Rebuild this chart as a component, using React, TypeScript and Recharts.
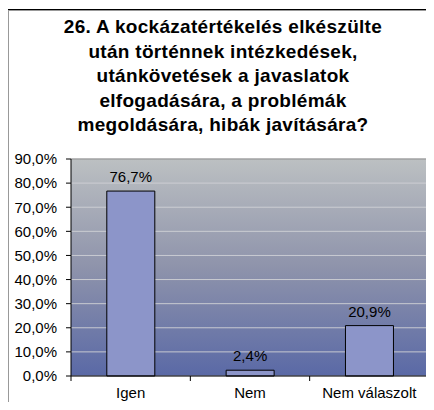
import React from "react";
import {
  BarChart,
  Bar,
  XAxis,
  YAxis,
  CartesianGrid,
  LabelList,
  ReferenceLine,
} from "recharts";

const titleLines = [
  "26. A kockázatértékelés elkészülte",
  "után történnek intézkedések,",
  "utánkövetések a javaslatok",
  "elfogadására, a problémák",
  "megoldására, hibák javítására?",
];
const categories = ["Igen", "Nem", "Nem válaszolt"];
const values = [76.7, 2.4, 20.9];
const yTicks = [0, 10, 20, 30, 40, 50, 60, 70, 80, 90];

const data = categories.map((c, i) => ({ name: c, value: values[i] }));

const fmt = (v: number) => v.toFixed(1).replace(".", ",") + "%";

const FONT = "'Liberation Sans', Arial, sans-serif";

const XTick = (props: any) => {
  const { x, y, payload, index } = props;
  const off = payload.offset || 0;
  return (
    <g>
      <line x1={x + off} x2={x + off} y1={y - 8} y2={y - 3} stroke="#000" />
      {index === 0 && (
        <line x1={x - off} x2={x - off} y1={y - 8} y2={y - 3} stroke="#000" />
      )}
      <text
        x={x}
        y={y + 3}
        dy="0.71em"
        textAnchor="middle"
        fontSize={15}
        fontFamily={FONT}
        fill="#000"
      >
        {payload.value}
      </text>
    </g>
  );
};

export default function App() {
  return (
    <div
      style={{
        position: "relative",
        width: 434,
        height: 410,
        margin: -8,
        overflow: "hidden",
        background: "#fff",
        fontFamily: FONT,
      }}
    >
      <div
        style={{
          position: "absolute",
          left: 7,
          top: 9,
          width: 500,
          height: 500,
          borderLeft: "1px solid #000",
          borderTop: "1px solid #000",
          boxShadow: "inset 1px 1px 0 #999",
        }}
      />
      <div
        style={{
          position: "absolute",
          left: 0,
          top: 15,
          width: 446,
          textAlign: "center",
          fontWeight: "bold",
          fontSize: 19,
          letterSpacing: 0.3,
          lineHeight: "24.5px",
          color: "#000",
        }}
      >
        {titleLines.map((l, i) => (
          <div key={i}>{l}</div>
        ))}
      </div>
      <div style={{ position: "absolute", left: 0, top: 0 }}>
        <BarChart
          width={434}
          height={410}
          data={data}
          margin={{ top: 159, right: 0, left: 0, bottom: 10 }}
          barCategoryGap="30%"
        >
          <defs>
            <linearGradient id="bg" x1="0" y1="0" x2="0" y2="1">
              <stop offset="0%" stopColor="#bcc0c2" />
              <stop offset="50%" stopColor="#8e93ab" />
              <stop offset="100%" stopColor="#5a69a6" />
            </linearGradient>
          </defs>
          <CartesianGrid
            vertical={false}
            fill="url(#bg)"
            fillOpacity={1}
            stroke="#d0d2d6"
            strokeOpacity={0.9}
          />
          <XAxis
            dataKey="name"
            height={24}
            tickLine={false}
            axisLine={{ stroke: "#000" }}
            tick={<XTick />}
            interval={0}
          />
          <YAxis
            width={71}
            domain={[0, 90]}
            ticks={yTicks}
            interval={0}
            tickFormatter={fmt}
            tickSize={5}
            tickMargin={9}
            axisLine={{ stroke: "#000" }}
            tickLine={{ stroke: "#000" }}
            tick={{ fontSize: 15, fontFamily: FONT, fill: "#000" }}
          />
          <YAxis
            yAxisId="r"
            orientation="right"
            width={5}
            domain={[0, 90]}
            tick={false}
            tickLine={false}
            axisLine={{ stroke: "#888" }}
          />
          <ReferenceLine y={90} stroke="#888" />
          <Bar
            dataKey="value"
            fill="#8c95c9"
            stroke="#000"
            strokeWidth={1}
            isAnimationActive={false}
          >
            <LabelList
              dataKey="value"
              position="top"
              offset={9}
              formatter={(v: any) => fmt(Number(v))}
              style={{ fontSize: 15, fontFamily: FONT, fill: "#000" }}
            />
          </Bar>
        </BarChart>
      </div>
    </div>
  );
}
